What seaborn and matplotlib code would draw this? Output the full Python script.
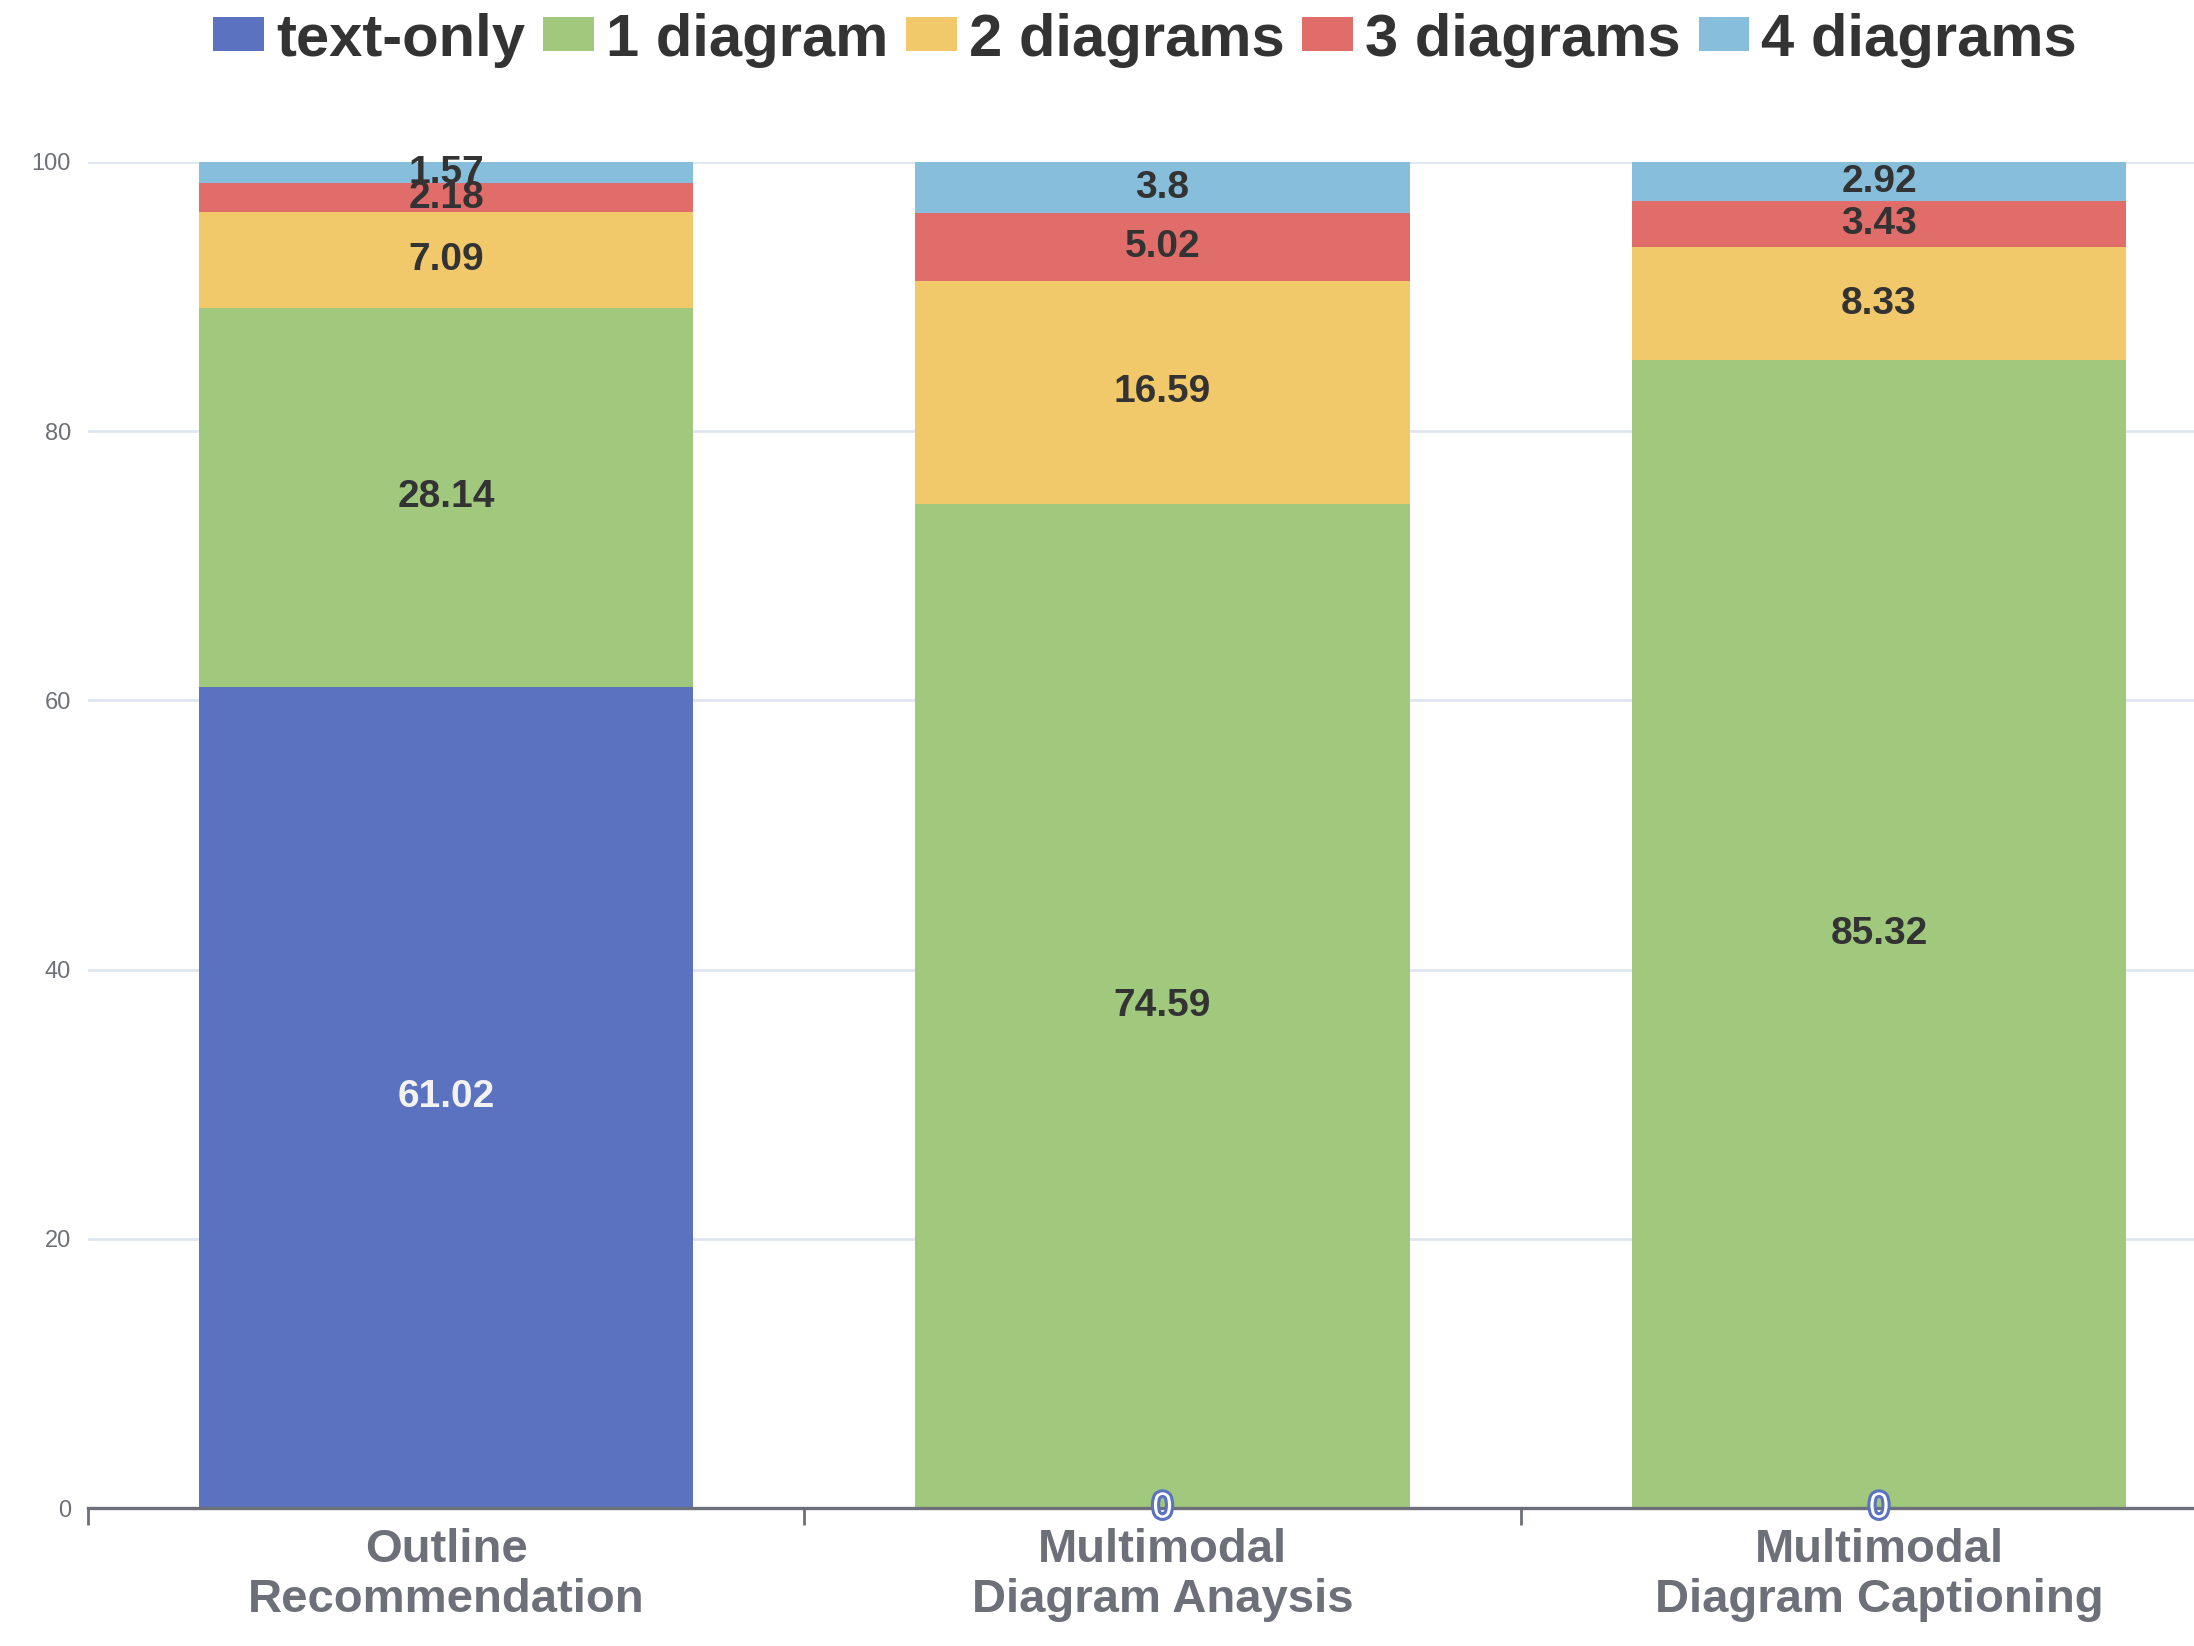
import matplotlib
matplotlib.use("Agg")
import matplotlib.pyplot as plt
import matplotlib.patheffects as pe
from matplotlib.patches import Patch
import seaborn as sns
import numpy as np
import pandas as pd

# Chart data
categories = ["Outline\nRecommendation", "Multimodal\nDiagram Anaysis", "Multimodal\nDiagram Captioning"]
series_names = ["text-only", "1 diagram", "2 diagrams", "3 diagrams", "4 diagrams"]
text_only = [61.02, 0, 0]
one_diagram = [28.14, 74.59, 85.32]
two_diagrams = [7.09, 16.59, 8.33]
three_diagrams = [2.18, 5.02, 3.43]
four_diagrams = [1.57, 3.8, 2.92]
colors = ["#5a72c0", "#a0c97e", "#f2c96a", "#e06d6a", "#86bedc"]

series_values = [text_only, one_diagram, two_diagrams, three_diagrams, four_diagrams]

sns.set_theme(style="white")
plt.rcParams["font.family"] = ["Liberation Sans", "DejaVu Sans"]

fig = plt.figure(figsize=(10.97, 8.23), dpi=200)
# axis runs a little past the right edge of the figure, like the reference
ax = fig.add_axes([0.040, 0.0838, 0.9797, 0.8178])

# cumulative sums for stacked bars
vals = np.array(series_values)
cum = np.cumsum(vals, axis=0)

# draw tallest stack first, then smaller on top
for i in range(len(series_names) - 1, -1, -1):
    df = pd.DataFrame({"cat": categories, "val": cum[i]})
    sns.barplot(data=df, x="cat", y="val", order=categories, color=colors[i],
                width=0.69, saturation=1, ax=ax, linewidth=0)

# value labels
for i, name in enumerate(series_names):
    for j in range(len(categories)):
        v = vals[i, j]
        bottom = cum[i, j] - v
        y = bottom + v / 2
        if i == 0:
            if v == 0:
                ax.text(j, y, "0", ha="center", va="center", fontsize=13, color="white",
                        zorder=5, clip_on=False,
                        path_effects=[pe.withStroke(linewidth=2.2, foreground="#5a72c0")])
            else:
                ax.text(j, y, f"{v:g}", ha="center", va="center", fontsize=14,
                        color="#f2f2f2", fontweight="bold", zorder=5)
        else:
            ax.text(j, y, f"{v:g}", ha="center", va="center", fontsize=14,
                    color="#333333", fontweight="bold", zorder=5)

ax.set_xlim(-0.5, 2.5)
ax.set_ylim(0, 100)
ax.set_yticks([0, 20, 40, 60, 80, 100])
ax.yaxis.grid(True, color="#e0e6f1", linewidth=1)
ax.set_axisbelow(True)
ax.tick_params(axis="y", length=0, labelsize=8.5, labelcolor="#6e7079", pad=6)
ax.tick_params(axis="x", which="major", length=0, labelsize=17, labelcolor="#6e7079", pad=7)
ax.set_xticks([-0.5, 0.5, 1.5, 2.5], minor=True)
ax.tick_params(axis="x", which="minor", bottom=True, length=6, color="#6e7079", width=1)
for lbl in ax.get_xticklabels():
    lbl.set_fontweight("bold")
ax.set_xlabel("")
ax.set_ylabel("")
for s in ["top", "right", "left"]:
    ax.spines[s].set_visible(False)
ax.spines["bottom"].set_color("#6e7079")
ax.spines["bottom"].set_linewidth(1.2)

handles = [Patch(facecolor=c, edgecolor="none") for c in colors]
fig.legend(handles, series_names, loc="upper center", bbox_to_anchor=(0.522, 1.025),
           ncol=5, frameon=False, prop={"size": 21.5, "weight": "bold"},
           handlelength=0.85, handleheight=0.5, handletextpad=0.2, columnspacing=0.3,
           labelcolor="#333333")

fig.savefig("out.png", dpi=200)
